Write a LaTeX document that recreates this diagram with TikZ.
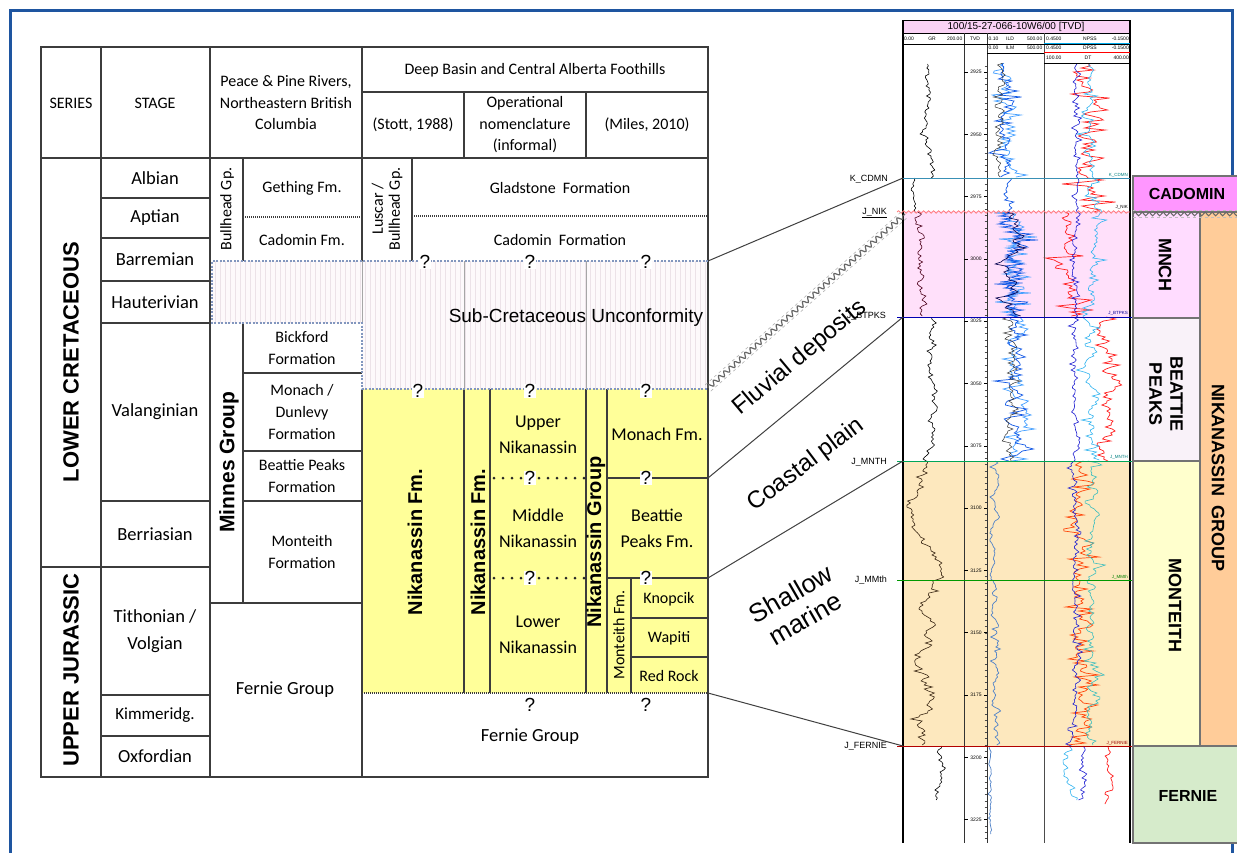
\documentclass[tikz,border=0pt]{standalone}
\usepackage{fontspec}
\setmainfont{Carlito}
\newfontfamily\arial{Liberation Sans}
\usetikzlibrary{decorations.pathmorphing}
\newcommand\fsz[2]{\fontsize{#1}{#2}\selectfont}
% style, ytop, ybot, centre, step-amplitude, dy, reversion, spike amplitude
\newcommand\walk[8]{%
  \xdef\wx{#4}\gdef\wpts{}%
  \pgfmathtruncatemacro\wsecond{#2+#6}%
  \foreach \yy in {#2,\wsecond,...,#3} {%
    \pgfmathsetmacro\wn{\wx+#5*rand-#7*(\wx-#4)}%
    \xdef\wx{\wn}%
    \pgfmathsetmacro\wp{\wx+#8*rand*rand*rand}%
    \xdef\wpts{\wpts(\wp,\yy)}%
  }%
  \edef\wcmd{\noexpand\draw[#1] plot coordinates {\wpts};}\wcmd
}
\definecolor{frameblue}{RGB}{30,85,160}
\definecolor{tline}{RGB}{60,60,60}
\definecolor{nikyel}{RGB}{255,255,153}
\definecolor{hatchbg}{RGB}{253,249,251}
\definecolor{hatchln}{RGB}{236,226,232}
\definecolor{hatchedge}{RGB}{130,150,190}
\definecolor{logpink}{RGB}{255,224,250}
\definecolor{logorange}{RGB}{253,232,190}
\definecolor{titlepink}{RGB}{250,210,245}
\definecolor{cadom}{RGB}{255,150,255}
\definecolor{mnch}{RGB}{255,220,255}
\definecolor{beattie}{RGB}{249,242,249}
\definecolor{monteith}{RGB}{255,255,205}
\definecolor{nikgrp}{RGB}{255,204,153}
\definecolor{fernie}{RGB}{214,235,203}
\definecolor{ildc}{RGB}{20,90,230}
\definecolor{ilmc}{RGB}{70,160,255}
\definecolor{steel}{RGB}{80,130,200}
\definecolor{dtc}{RGB}{255,30,30}
\definecolor{dto}{RGB}{255,70,10}
\definecolor{npc}{RGB}{30,30,210}
\definecolor{dpc}{RGB}{50,180,240}
\definecolor{dpt}{RGB}{60,190,190}
\begin{document}
\begin{tikzpicture}[x=1pt,y=-1pt,
  tl/.style={draw=tline, line width=1.2pt},
  faintl/.style={draw=black!35, line width=1pt},
  dotl/.style={draw=tline, line width=1.2pt, dash pattern=on 1pt off 1pt},
  bigdots/.style={draw=black!85, line width=3pt, line cap=round, dash pattern=on 0pt off 9pt},
  hedge/.style={draw=hatchedge, line width=1.3pt, dash pattern=on 2pt off 1.5pt},
  hd/.style={font=\fsz{16}{21.5}, align=center, inner sep=0pt},
  st/.style={font=\fsz{18.5}{27}, align=center, inner sep=0pt},
  ft/.style={font=\fsz{16}{22}, align=center, inner sep=0pt},
  yt/.style={font=\fsz{18}{26}, align=center, inner sep=0pt},
  vb/.style={font=\arial\bfseries\fsz{20}{22}, rotate=90, inner sep=0pt},
  vr/.style={font=\fsz{16}{17}, rotate=90, align=center, inner sep=0pt},
  qm/.style={font=\arial\fsz{19}{20}, fill=white, inner sep=0.6pt},
  ar/.style={font=\arial\fsz{24}{27}, align=center, inner sep=0pt},
  rlab/.style={font=\arial\bfseries\fsz{18}{21}, align=center, inner sep=0pt},
  wl/.style={font=\arial\fsz{9}{10}, anchor=east, inner sep=0pt},
  tiny/.style={font=\arial\fsz{5}{6}, inner sep=0pt},
  conn/.style={draw=black!75, line width=1pt},
  rbox/.style={draw=black!55, line width=1.5pt}
]
\useasboundingbox (0,0) rectangle (1237,852);
\fill[white] (0,0) rectangle (1237,852);
\pgfmathsetseed{7}
% frame
\draw[frameblue, line width=3pt] (10,870) -- (10,10) -- (1232,10) -- (1232,870);

% ---------------- TABLE ----------------
\fill[nikyel] (362,389) rectangle (708,693);
\begin{scope}
  \clip (212,261) -- (708,261) -- (708,389) -- (362,389) -- (362,323) -- (212,323) -- cycle;
  \fill[hatchbg] (212,261) rectangle (708,389);
  \foreach \x in {215,220,...,708} \draw[hatchln, line width=1pt] (\x,261) -- (\x,389);
\end{scope}
% outer
\draw[tl] (41,47) rectangle (708,777);
% header
\draw[tl] (362,92) -- (708,92);
\draw[tl] (41,158) -- (708,158);
\draw[tl] (464,92) -- (464,158);
\draw[tl] (586,92) -- (586,158);
\draw[tl] (101,47) -- (101,777);
\draw[tl] (210,47) -- (210,777);
\draw[tl] (362,47) -- (362,261);
\draw[tl] (362,389) -- (362,777);
\draw[faintl] (362,261) -- (362,323);
% stage rows
\foreach \yy in {198,238,281,323,501,695,736} \draw[tl] (101,\yy) -- (210,\yy);
\draw[tl] (41,567) -- (210,567);
% peace column
\draw[tl] (243,158) -- (243,261);
\draw[dotl] (243,217) -- (362,217);
\draw[tl] (243,323) -- (243,603);
\foreach \yy in {373,451,501} \draw[tl] (243,\yy) -- (362,\yy);
\draw[tl] (210,603) -- (362,603);
% deep basin
\draw[tl] (412,158) -- (412,261);
\draw[dotl] (412,216) -- (708,216);
\draw[faintl] (464,261) -- (464,389);
\draw[faintl] (586,261) -- (586,389);
\foreach \x in {464,490,586,607} \draw[tl] (\x,389) -- (\x,693);
\draw[tl] (607,478) -- (708,478);
\draw[tl] (607,578) -- (708,578);
\draw[tl] (631,578) -- (631,693);
\draw[tl] (631,618) -- (708,618);
\draw[tl] (631,657) -- (708,657);
\draw[bigdots] (494,478) -- (586,478);
\draw[bigdots] (494,578) -- (586,578);
\draw[dotl] (362,693) -- (708,693);
% hatch edge
\draw[hedge] (708,261) -- (212,261) -- (212,323) -- (362,323) -- (362,389) -- (708,389);

% header texts
\node[hd] (hser) at (71,103) {SERIES};
\node[hd] (hstg) at (155,103) {STAGE};
\node[hd] (hpp) at (286,103) {Peace \& Pine Rivers,\\Northeastern British\\Columbia};
\node[hd] (hdb) at (535,70) {Deep Basin and Central Alberta Foothills};
\node[hd] (hstott) at (413,125) {(Stott, 1988)};
\node[hd] (hop) at (525,125) {Operational\\nomenclature\\(informal)};
\node[hd] (hmil) at (647,125) {(Miles, 2010)};
% series
\node[vb, font=\arial\bfseries\fsz{22}{24}] (slc) at (71,362) {LOWER CRETACEOUS};
\node[vb, font=\arial\bfseries\fsz{22}{24}] (suj) at (71,670) {UPPER JURASSIC};
% stages
\node[st] (s1) at (155,178) {Albian};
\node[st] (s2) at (155,218) {Aptian};
\node[st] (s3) at (155,259) {Barremian};
\node[st] (s4) at (155,302) {Hauterivian};
\node[st] (s5) at (155,412) {Valanginian};
\node[st] (s6) at (155,534) {Berriasian};
\node[st] (s7) at (155,631) {Tithonian /\\Volgian};
\node[st, font=\fsz{17}{20}] (s8) at (155,715) {Kimmeridg.};
\node[st] (s9) at (155,756) {Oxfordian};
% peace column
\node[vr] (pbh) at (227,209) {Bullhead Gp.};
\node[ft] (pge) at (302,188) {Gething Fm.};
\node[ft] (pca) at (302,240) {Cadomin Fm.};
\node[vb, font=\arial\bfseries\fsz{21}{23}] (pmin) at (229,462) {Minnes Group};
\node[ft] (pbi) at (302,348) {Bickford\\Formation};
\node[ft] (pmo) at (302,412) {Monach /\\Dunlevy\\Formation};
\node[ft] (pbp) at (302,476) {Beattie Peaks\\Formation};
\node[ft] (pmt) at (302,552) {Monteith\\Formation};
\node[st] (pfe) at (285,690) {Fernie Group};
% deep basin
\node[vr] (dlu) at (387,209) {Luscar /\\Bullhead Gp.};
\node[ft] (dgl) at (560,188) {Gladstone~~Formation};
\node[ft] (dca) at (560,240) {Cadomin~~Formation};
\node[font=\arial\fsz{19}{20}, inner sep=0pt] (dunc) at (576,318) {Sub-Cretaceous Unconformity};
\node[vb] (dn1) at (415,542) {Nikanassin Fm.};
\node[vb] (dn2) at (478,542) {Nikanassin Fm.};
\node[vb] (dn3) at (596,542) {Nikanassin Group};
\node[yt] (dun) at (538,435) {Upper\\Nikanassin};
\node[yt] (dmn) at (538,528) {Middle\\Nikanassin};
\node[yt] (dln) at (538,635) {Lower\\Nikanassin};
\node[yt] (dmf) at (657,434) {Monach Fm.};
\node[yt] (dbp) at (657,528) {Beattie\\Peaks Fm.};
\node[vr] (dmt) at (619,635) {Monteith Fm.};
\node[ft] (dkn) at (669,599) {Knopcik};
\node[ft] (dwa) at (669,638) {Wapiti};
\node[ft] (drr) at (669,676) {Red Rock};
\node[st] (dfe) at (530,737) {Fernie Group};
% question marks
\node[qm] (q1) at (425,262) {?};
\node[qm] (q2) at (530,262) {?};
\node[qm] (q3) at (646,262) {?};
\node[qm] (q4) at (418,391) {?};
\node[qm] (q5) at (530,391) {?};
\node[qm] (q6) at (646,391) {?};
\node[qm] (q7) at (530,478) {?};
\node[qm] (q8) at (646,478) {?};
\node[qm] (q9) at (530,578) {?};
\node[qm] (q10) at (646,578) {?};
\node[qm] (q11) at (530,705) {?};
\node[qm] (q12) at (646,705) {?};

% ---------------- WELL LOG ----------------
\fill[logpink] (903,211) rectangle (1130,317);
\fill[logorange] (903,461) rectangle (1130,746);
\fill[titlepink] (903,20) rectangle (1130,33);
\begin{scope}
\clip (905,63) rectangle (1128,843);
% GR
\walk{black,line width=0.6pt}{64}{178}{928}{3}{2}{0.15}{4}
\walk{black,line width=0.6pt}{178}{212}{913}{1.5}{2}{0.3}{1}
\walk{black!60!purple,line width=0.6pt}{212}{317}{921}{3.5}{2}{0.15}{6}
\walk{black,line width=0.6pt}{317}{461}{930}{3}{2}{0.15}{4}
\walk{black!70!brown,line width=0.6pt}{461}{746}{925}{5}{2}{0.12}{9}
\walk{black,line width=0.6pt}{746}{800}{940}{3}{2}{0.2}{5}
% resistivity
\walk{ilmc,line width=0.7pt}{63}{178}{1008}{5}{2}{0.2}{25}
\walk{ildc,line width=0.7pt}{63}{178}{1004}{4}{2}{0.2}{25}
\walk{black!80,line width=0.5pt}{63}{178}{1000}{3}{2}{0.2}{15}
\walk{ildc,line width=0.7pt}{178}{212}{1012}{3}{2}{0.2}{20}
\walk{ilmc,line width=0.7pt}{212}{317}{1016}{6}{1}{0.25}{28}
\walk{ildc,line width=0.7pt}{212}{317}{1014}{6}{1}{0.25}{28}
\walk{black!70!blue,line width=0.6pt}{212}{317}{1012}{5}{2}{0.25}{20}
\walk{ilmc,line width=0.7pt}{317}{461}{1020}{5}{2}{0.2}{22}
\walk{ildc,line width=0.7pt}{317}{461}{1015}{5}{2}{0.2}{22}
\walk{black!80,line width=0.5pt}{317}{461}{1010}{3}{2}{0.2}{15}
\walk{steel,line width=0.7pt}{461}{746}{995}{2}{2}{0.2}{6}
\walk{steel,line width=0.7pt}{746}{835}{990}{1}{2}{0.2}{3}
% sonic
\walk{dtc,line width=0.7pt}{64}{212}{1090}{6}{2}{0.2}{32}
\walk{dtc,line width=0.7pt}{212}{317}{1072}{6}{2}{0.2}{30}
\walk{dtc,line width=0.7pt}{317}{461}{1105}{5}{2}{0.2}{16}
\walk{dto,line width=0.7pt}{461}{746}{1082}{6}{2}{0.2}{30}
\walk{dtc,line width=0.7pt}{746}{805}{1108}{2}{2}{0.2}{6}
\walk{dpc,line width=0.6pt}{64}{461}{1092}{3}{2}{0.15}{14}
\walk{dpt,line width=0.6pt}{461}{746}{1092}{3}{2}{0.15}{12}
\walk{dpc,line width=0.6pt}{746}{800}{1068}{4}{2}{0.15}{10}
\walk{npc,line width=0.6pt}{64}{746}{1075}{1.5}{2}{0.15}{10}
\walk{npc,line width=0.6pt}{746}{800}{1083}{2}{2}{0.15}{6}
\end{scope}
% track lines
\draw[black, line width=0.8pt] (903,20) rectangle (1130,33);
\draw[black, line width=1.5pt] (903,20) -- (903,843);
\draw[black, line width=1.5pt] (1130,20) -- (1130,843);
\draw[black!80, line width=0.8pt] (964,33) -- (964,843);
\draw[black!80, line width=0.6pt] (987,33) -- (987,843);
\draw[black!70, line width=0.8pt] (1044,33) -- (1044,843);
\draw[black, line width=0.5pt] (903,44) -- (1130,44);
\draw[black, line width=0.5pt] (987,53) -- (1044,53);
\draw[cyan, line width=0.9pt] (1044,43.5) -- (1130,43.5);
\draw[red, line width=0.9pt] (1044,52.5) -- (1130,52.5);
\draw[black, line width=0.5pt] (1044,63) -- (1130,63);
\node[font=\arial\fsz{10}{11}, inner sep=0pt] (ltitle) at (1016,27) {100/15-27-066-10W6/00 [TVD]};
\node[tiny, anchor=west] (h1) at (904,38.5) {0.00};
\node[tiny] (h2) at (932,38.5) {GR};
\node[tiny, anchor=east] (h3) at (962.5,38.5) {200.00};
\node[tiny] (h4) at (975,38.5) {TVD};
\node[tiny, anchor=west] (h5) at (988.5,38.5) {0.10};
\node[tiny] (h6) at (1010,38.5) {ILD};
\node[tiny, anchor=east] (h7) at (1042.5,38.5) {500.00};
\node[tiny, anchor=west] (h8) at (988.5,48) {0.00};
\node[tiny] (h9) at (1010,48) {ILM};
\node[tiny, anchor=east] (h10) at (1042.5,48) {500.00};
\node[tiny, anchor=west] (h11) at (1046,38.5) {0.4500};
\node[tiny] (h12) at (1090,38.5) {NPSS};
\node[tiny, anchor=east] (h13) at (1129,38.5) {-0.1500};
\node[tiny, anchor=west] (h14) at (1046,48) {0.4500};
\node[tiny] (h15) at (1090,48) {DPSS};
\node[tiny, anchor=east] (h16) at (1129,48) {-0.1500};
\node[tiny, anchor=west] (h17) at (1046,58) {100.00};
\node[tiny] (h18) at (1088,58) {DT};
\node[tiny, anchor=east] (h19) at (1129,58) {400.00};
% depth axis
\foreach \k in {-1,...,123} \draw[black!70, line width=0.4pt] (984.5,{72+\k*6.23}) -- (987,{72+\k*6.23});
\foreach \d [count=\i from 0] in {2925,2950,...,3225} {
  \draw[black, line width=0.5pt] (964,{72+\i*62.3}) -- (968,{72+\i*62.3});
  \draw[black, line width=0.5pt] (984,{72+\i*62.3}) -- (987,{72+\i*62.3});
  \node[tiny] at (976,{72+\i*62.3}) {\d};
}
% formation tops
\draw[cyan!70!black, line width=0.7pt] (903,178) -- (1130,178);
\draw[red!55, line width=0.7pt, decorate, decoration={snake, amplitude=1.3pt, segment length=5pt}] (897,212) -- (1130,212);
\draw[blue!70!black, line width=1pt] (897,317) -- (1133,317);
\draw[teal!70!green, line width=1pt] (897,461) -- (1133,461);
\draw[green!60!black, line width=1pt] (897,580) -- (1133,580);
\draw[red!70!black, line width=1pt] (897,746) -- (1133,746);
\node[tiny, font=\arial\fsz{4.5}{5}, anchor=east, text=teal] (t1) at (1128,175) {K\_CDMN};
\node[tiny, font=\arial\fsz{4.5}{5}, anchor=east] (t2) at (1128,207) {J\_NIK};
\node[tiny, font=\arial\fsz{4.5}{5}, anchor=east, text=blue!60!black] (t3) at (1128,313) {J\_BTPKS};
\node[tiny, font=\arial\fsz{4.5}{5}, anchor=east, text=teal] (t4) at (1128,457) {J\_MNTH};
\node[tiny, font=\arial\fsz{4.5}{5}, anchor=east, text=green!50!black] (t5) at (1128,577) {J\_MMth};
\node[tiny, font=\arial\fsz{4.5}{5}, anchor=east, text=red!60!black] (t6) at (1128,743) {J\_FERNIE};
% labels left of log
\node[wl] (lk) at (888,179) {K\_CDMN};
\node[wl] (ln) at (887,213) {\underline{J\_NIK}};
\node[wl] (lb) at (886,316) {J\_BTPKS};
\node[wl] (lm) at (887,462) {J\_MNTH};
\node[wl] (lmm) at (887,580) {J\_MMth};
\node[wl] (lf) at (887,746) {J\_FERNIE};

% ---------------- RIGHT COLUMNS ----------------
\draw[rbox, fill=nikgrp] (1200,212) rectangle (1242,746);
\draw[rbox, fill=cadom] (1133,176) rectangle (1242,212);
\draw[rbox, fill=mnch] (1133,212) rectangle (1200,318);
\draw[rbox, fill=beattie] (1133,318) rectangle (1200,461);
\draw[rbox, fill=monteith] (1133,461) rectangle (1200,746);
\draw[rbox, fill=fernie] (1133,746) rectangle (1242,843);
\draw[black!25, line width=0.6pt, dashed] (1133,210.5) -- (1240,210.5);
\draw[black!25, line width=0.6pt, dashed] (1133,217.5) -- (1240,217.5);
\draw[black!60, line width=1pt, decorate, decoration={snake, amplitude=1.8pt, segment length=7pt}] (1133,214) -- (1240,214);
\node[rlab, font=\arial\bfseries\fsz{16}{18}] (rcad) at (1187,194) {CADOMIN};
\node[rlab, rotate=-90] (rmnch) at (1165,265) {MNCH};
\node[rlab, rotate=-90] (rbp) at (1166,394) {BEATTIE\\PEAKS};
\node[rlab, rotate=-90] (rmon) at (1175,605) {MONTEITH};
\node[rlab, rotate=-90] (rnik) at (1218,478) {NIKANASSIN~~GROUP};
\node[rlab, font=\arial\bfseries\fsz{16}{18}] (rfer) at (1188,796) {FERNIE};

% ---------------- CONNECTORS ----------------
\coordinate (a1) at (708,261); \coordinate (b1) at (903,178);
\coordinate (a2) at (708,388); \coordinate (b2) at (905,214);
\coordinate (a3) at (708,478); \coordinate (b3) at (903,317);
\coordinate (a4) at (708,578); \coordinate (b4) at (903,461);
\coordinate (a5) at (708,693); \coordinate (b5) at (903,746);
\draw[conn] (a1) -- (b1);
\draw[conn] (a3) -- (b3);
\draw[conn] (a4) -- (b4);
\draw[conn] (a5) -- (b5);
\draw[black!30, line width=0.6pt, dashed] ([shift={(2.8,3.1)}]a2) -- ([shift={(2.8,3.1)}]b2);
\draw[black!30, line width=0.6pt, dashed] ([shift={(-2.8,-3.1)}]a2) -- ([shift={(-2.8,-3.1)}]b2);
\draw[black!60, line width=1.2pt, decorate, decoration={snake, amplitude=2.3pt, segment length=7pt}] (a2) -- (b2);
% environment labels
\node[ar, rotate=40] (efl) at (800,358) {Fluvial deposits};
\node[ar, rotate=37] (eco) at (806,465) {Coastal plain};
\node[ar, rotate=30, font=\arial\fsz{26}{29}] (esh) at (798,606) {Shallow\\marine};
\end{tikzpicture}
\end{document}
